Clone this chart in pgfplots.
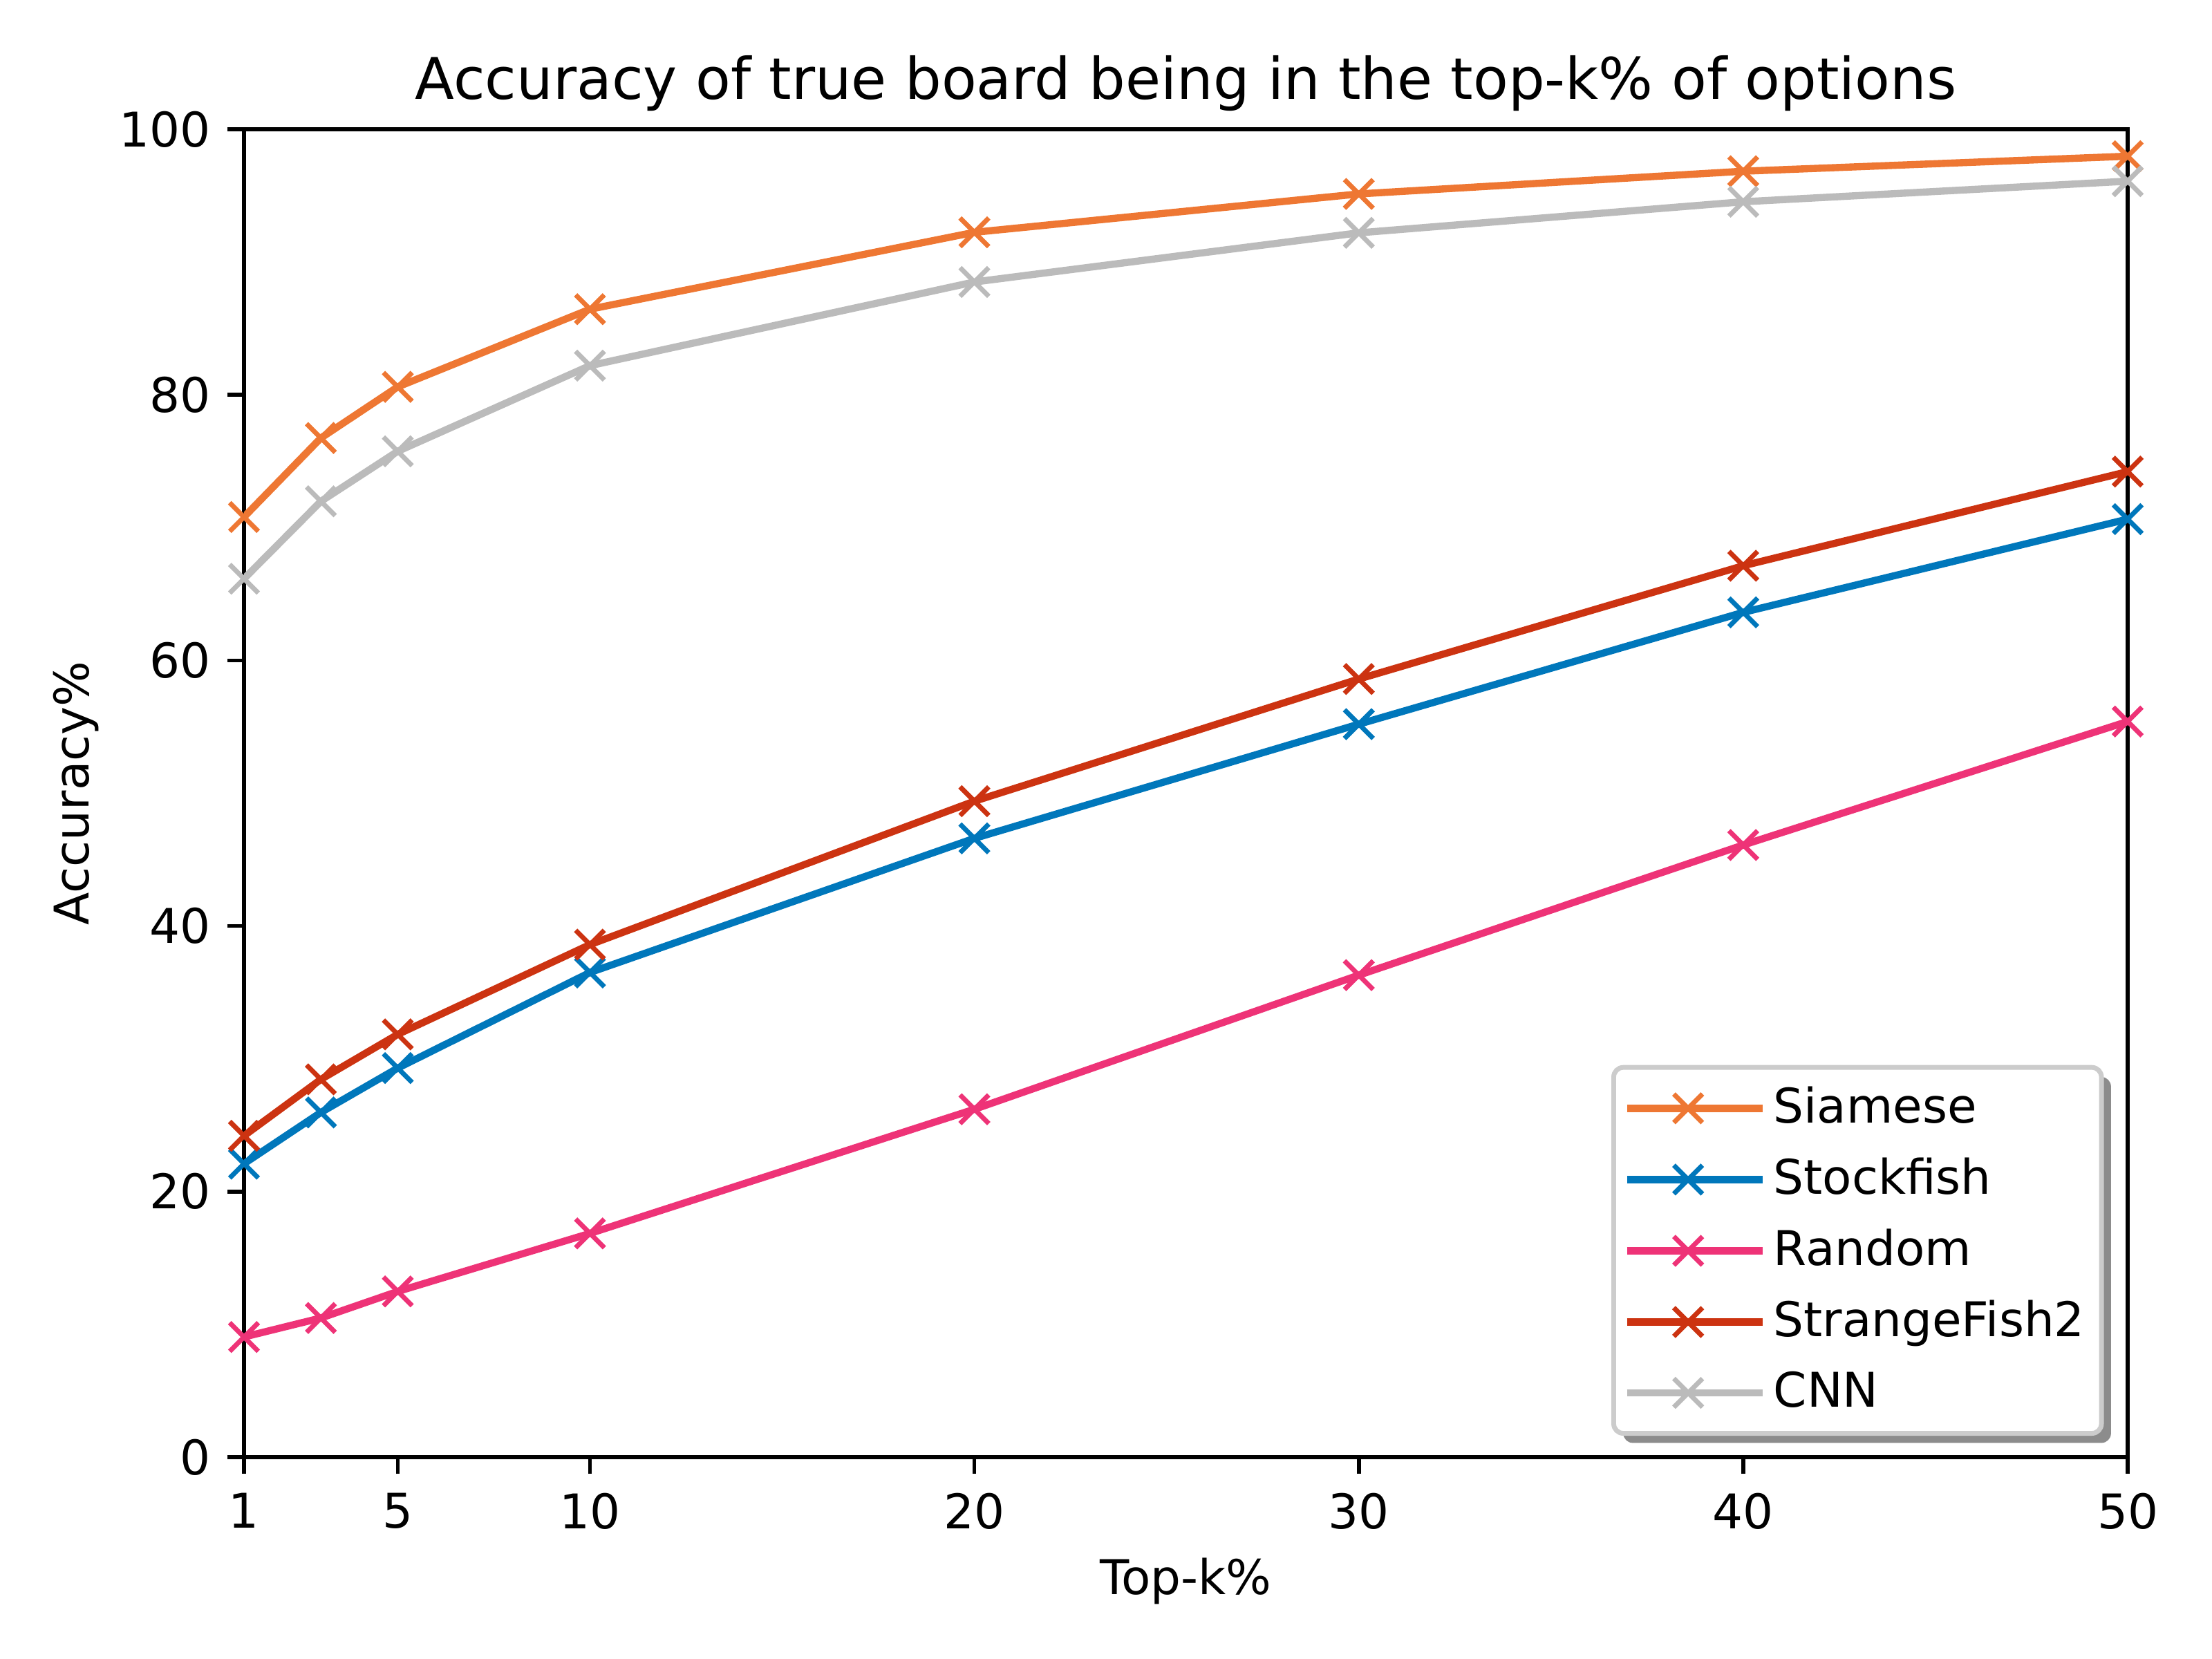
\documentclass[border=0pt]{standalone}
\usepackage{pgfplots}
\pgfplotsset{compat=1.18}
\usepackage{fontspec}
\setmainfont{DejaVu Sans}
\usetikzlibrary{shadows}
\makeatletter
\tikzset{noshadow/.code={\let\tikz@preactions\pgfutil@empty}}
\makeatother
\definecolor{cSiam}{HTML}{EE7733}
\definecolor{cStock}{HTML}{0077BB}
\definecolor{cRand}{HTML}{EE3377}
\definecolor{cSF}{HTML}{CC3311}
\definecolor{cCNN}{HTML}{BBBBBB}
\begin{document}
\begin{tikzpicture}
\path (-0.706in,-0.584in) rectangle (5.694in,4.216in);
\begin{axis}[
  at={(0,0)}, anchor=south west,
  scale only axis, width=5.45in, height=3.842in,
  xmin=1, xmax=50, ymin=0, ymax=100,
  xtick={1,5,10,20,30,40,50},
  ytick={0,20,40,60,80,100},
  axis line style={line width=0.8pt},
  tick style={line width=0.8pt, black},
  major tick length=3.5pt,
  tick align=outside,
  xtick pos=bottom, ytick pos=left,
  /pgf/number format/assume math mode=true,
  tick label style={font=\fontsize{10}{12}\selectfont},
  xticklabel style={yshift=-0.5pt},
  title={Accuracy of true board being in the top-k\% of options},
  title style={font=\fontsize{12}{14}\selectfont, yshift=-5.7pt},
  xlabel={Top-k\%}, ylabel={Accuracy\%},
  label style={font=\fontsize{10}{12}\selectfont},
  xlabel style={yshift=0.8pt},
  ylabel style={yshift=-2.6pt},
  every axis plot/.append style={line width=1.5pt, mark=x, mark size=4.24pt, mark options={line width=1pt, solid}},
  legend image code/.code={\path[noshadow] (-2pt,0cm) -- (0cm,0cm);
    \draw[noshadow,mark repeat=2,mark phase=2,#1] plot coordinates {(0cm,0cm) (0.38cm,0cm) (0.76cm,0cm)};
    \path[noshadow] (0.76cm,0cm) -- (0.76cm+4.8pt,0cm);},
  legend cell align=left,
  legend style={at={(rel axis cs:1,0)}, anchor=south east, xshift=-0.069in, yshift=0.062in,
    font=\fontsize{10}{12}\selectfont, draw=black!20, line width=1pt, rounded corners=2pt, fill=white,
    inner xsep=2pt, inner ysep=2pt, row sep=1.8pt,
    drop shadow={shadow xshift=2pt, shadow yshift=-2pt, fill=black!45, opacity=1},
    nodes={noshadow, inner xsep=1.5pt}},
]
\addplot[color=cSiam] coordinates {(1,70.8) (3,76.75) (5,80.6) (10,86.45) (20,92.24) (30,95.13) (40,96.84) (50,97.97)};
\addlegendentry{Siamese}
\addplot[color=cStock] coordinates {(1,22.1) (3,25.96) (5,29.3) (10,36.5) (20,46.6) (30,55.2) (40,63.62) (50,70.64)};
\addlegendentry{Stockfish}
\addplot[color=cRand] coordinates {(1,9.05) (3,10.48) (5,12.48) (10,16.85) (20,26.2) (30,36.3) (40,46.1) (50,55.4)};
\addlegendentry{Random}
\addplot[color=cSF] coordinates {(1,24.2) (3,28.45) (5,31.84) (10,38.6) (20,49.4) (30,58.6) (40,67.13) (50,74.22)};
\addlegendentry{StrangeFish2}
\addplot[color=cCNN] coordinates {(1,66.15) (3,71.98) (5,75.75) (10,82.2) (20,88.5) (30,92.2) (40,94.54) (50,96.09)};
\addlegendentry{CNN}
\end{axis}
\end{tikzpicture}
\end{document}
